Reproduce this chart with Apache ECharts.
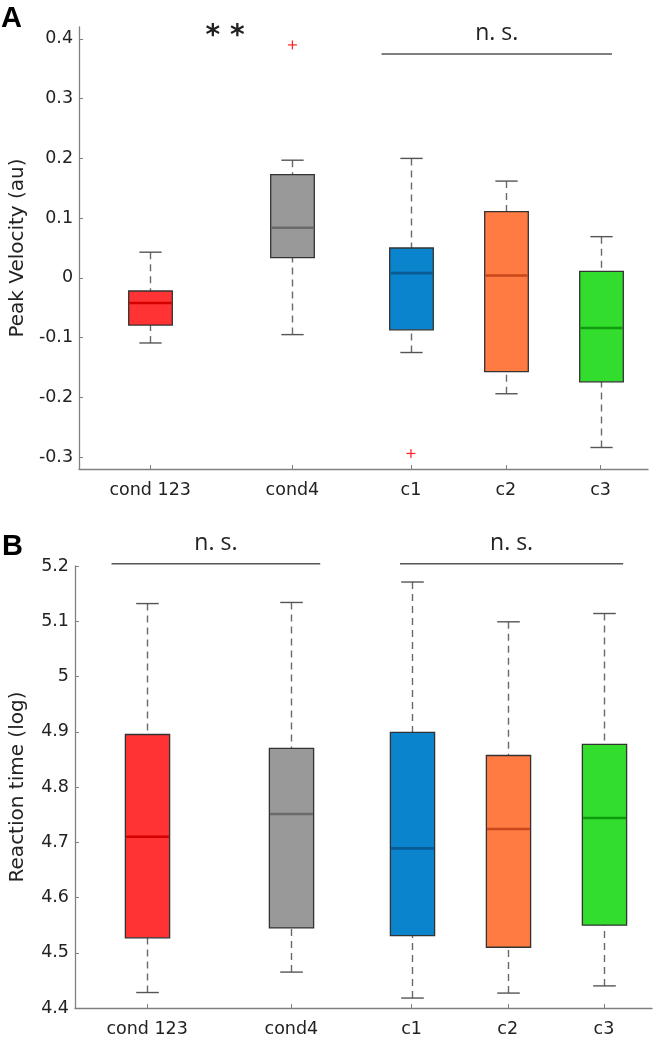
<!DOCTYPE html>
<html><head><meta charset="utf-8">
<script src="https://cdn.jsdelivr.net/npm/echarts@6/dist/echarts.min.js"></script>
<style>html,body{margin:0;padding:0;background:#fff}#c{width:656px;height:1038px}</style>
</head><body><div id="c"></div>
<script>
// ---------- data ----------
const categories = ['cond 123', 'cond4', 'c1', 'c2', 'c3'];
const positions = [0.75, 2.25, 3.5, 4.5, 5.5];

// Panel A – Peak Velocity (au): lower whisker, Q1, median, Q3, upper whisker
const velLow  = [-0.109, -0.095, -0.125, -0.194, -0.284];
const velQ1   = [-0.079,  0.034, -0.087, -0.157, -0.174];
const velMed  = [-0.042,  0.084,  0.008,  0.004, -0.084];
const velQ3   = [-0.022,  0.173,  0.050,  0.111,  0.011];
const velHigh = [ 0.043,  0.197,  0.200,  0.162,  0.069];
const velOutX = [2.25, 3.5];
const velOutY = [0.390, -0.294];
const velTicks = [-0.3, -0.2, -0.1, 0, 0.1, 0.2, 0.3, 0.4];

// Panel B – Reaction time (log)
const rtLow  = [4.428, 4.465, 4.418, 4.427, 4.440];
const rtQ1   = [4.527, 4.545, 4.531, 4.510, 4.550];
const rtMed  = [4.710, 4.751, 4.689, 4.724, 4.744];
const rtQ3   = [4.895, 4.870, 4.899, 4.857, 4.877];
const rtHigh = [5.132, 5.134, 5.171, 5.099, 5.114];
const rtTicks = [4.4, 4.5, 4.6, 4.7, 4.8, 4.9, 5, 5.1, 5.2];

// significance annotations
const starText = '* *';
const starX = [1.54];
const starY = [0.404];
const bracketPanel = [0, 1, 1];
const bracketX1 = [3.19, 0.38, 3.38];
const bracketX2 = [5.62, 2.55, 5.70];
const bracketY  = [0.375, 5.204, 5.204];
const bracketTextY = [0.409, 5.241, 5.241];
const bracketText = ['n. s.', 'n. s.', 'n. s.'];

// ---------- styles ----------
const boxColors = ['#FF3333', '#999999', '#0A84CC', '#FF7B42', '#33DD2E'];
const medColors = ['#D40000', '#6A6A6A', '#0A5A96', '#C8461A', '#0F9A0F'];
const axisColor = '#808080';
const FONT = 'DejaVu Sans';

const chart = echarts.init(document.getElementById('c'), null, {renderer: 'canvas'});

function boxData(low, q1, med, q3, high) {
  return positions.map((p, i) => [p, low[i], q1[i], med[i], q3[i], high[i], i]);
}

function renderBox(params, api) {
  const idx = api.value(6);
  const x = api.value(0);
  const low = api.coord([x, api.value(1)]);
  const q1 = api.coord([x, api.value(2)]);
  const med = api.coord([x, api.value(3)]);
  const q3 = api.coord([x, api.value(4)]);
  const high = api.coord([x, api.value(5)]);
  const bw = api.size([0.46, 0])[0];
  const cw = api.size([0.235, 0])[0];
  const cx = Math.round(low[0]) + 0.5;
  const whisk = {stroke: '#6a6a6a', lineWidth: 1.4, lineDash: [7, 5]};
  const cap = {stroke: '#555', lineWidth: 1.4};
  return {type: 'group', children: [
    {type: 'line', shape: {x1: cx, y1: high[1], x2: cx, y2: q3[1]}, style: whisk},
    {type: 'line', shape: {x1: cx, y1: low[1], x2: cx, y2: q1[1]}, style: whisk},
    {type: 'line', shape: {x1: cx - cw / 2, y1: high[1], x2: cx + cw / 2, y2: high[1]}, style: cap},
    {type: 'line', shape: {x1: cx - cw / 2, y1: low[1], x2: cx + cw / 2, y2: low[1]}, style: cap},
    {type: 'rect', shape: {x: cx - bw / 2, y: q3[1], width: bw, height: q1[1] - q3[1]},
      style: {fill: boxColors[idx], stroke: '#333', lineWidth: 1.3}},
    {type: 'line', shape: {x1: cx - bw / 2 + 0.7, y1: med[1], x2: cx + bw / 2 - 0.7, y2: med[1]},
      style: {stroke: medColors[idx], lineWidth: 2.6}}
  ]};
}

function renderPlus(params, api) {
  const c = api.coord([api.value(0), api.value(1)]);
  const s = 4.5;
  const st = {stroke: '#FF2020', lineWidth: 1.2};
  return {type: 'group', children: [
    {type: 'line', shape: {x1: c[0] - s, y1: c[1], x2: c[0] + s, y2: c[1]}, style: st},
    {type: 'line', shape: {x1: c[0], y1: c[1] - s, x2: c[0], y2: c[1] + s}, style: st}
  ]};
}

function renderBracket(params, api) {
  const a = api.coord([api.value(0), api.value(2)]);
  const b = api.coord([api.value(1), api.value(2)]);
  const t = api.coord([(api.value(0) + api.value(1)) / 2 + api.value(4), api.value(3)]);
  return {type: 'group', children: [
    {type: 'line', shape: {x1: a[0], y1: a[1], x2: b[0], y2: b[1]}, style: {stroke: '#555', lineWidth: 1.5}},
    {type: 'text', x: t[0], y: t[1], style: {text: bracketText[params.dataIndex], fill: '#222',
      font: '23px "Open Sans"', textAlign: 'center', textVerticalAlign: 'middle'}}
  ]};
}

function renderStar(params, api) {
  const t = api.coord([api.value(0), api.value(1)]);
  return {type: 'text', x: t[0], y: t[1], style: {text: starText, fill: '#222',
    font: 'bold 28px "DejaVu Sans"', textAlign: 'center', textVerticalAlign: 'middle'}};
}

function fmtTick(v) { return String(Math.round(v * 100) / 100); }

function xAxisFor(gi) {
  return {
    type: 'value', gridIndex: gi, min: 0, max: 6,
    axisLine: {show: true, onZero: false, lineStyle: {color: axisColor, width: 1.3}},
    axisTick: {show: true, inside: true, length: 4, customValues: positions, lineStyle: {color: axisColor}},
    axisLabel: {show: true, customValues: positions, margin: 12, color: '#222', fontFamily: FONT, fontSize: 17.5,
      formatter: v => { const i = positions.findIndex(p => Math.abs(p - v) < 1e-6); return i >= 0 ? categories[i] : ''; }},
    splitLine: {show: false}
  };
}

function yAxisFor(gi, min, max, ticks, name, gap) {
  return {
    type: 'value', gridIndex: gi, min: min, max: max,
    name: name, nameLocation: 'middle', nameGap: gap,
    nameTextStyle: {color: '#222', fontFamily: FONT, fontSize: 20},
    axisLine: {show: true, onZero: false, lineStyle: {color: axisColor, width: 1.3}},
    axisTick: {show: true, inside: true, length: 4, customValues: ticks, lineStyle: {color: axisColor}},
    axisLabel: {show: true, customValues: ticks, margin: 6, color: '#222', fontFamily: FONT, fontSize: 17.5, formatter: fmtTick},
    splitLine: {show: false}
  };
}

const bracketData = bracketPanel.map((p, i) => ({p: p, v: [bracketX1[i], bracketX2[i], bracketY[i], bracketTextY[i], 0]}));

chart.setOption({
  animation: false,
  backgroundColor: '#fff',
  grid: [
    {left: 73, right: 8, top: 27, bottom: 569, containLabel: false},
    {left: 70, right: 4, top: 566, bottom: 30, containLabel: false}
  ],
  xAxis: [xAxisFor(0), xAxisFor(1)],
  yAxis: [
    yAxisFor(0, -0.32, 0.42, velTicks, 'Peak Velocity (au)', 50),
    yAxisFor(1, 4.4, 5.2, rtTicks, 'Reaction time (log)', 47)
  ],
  graphic: [
    {type: 'text', left: 1, top: 4, style: {text: 'A', fill: '#000', font: 'bold 29px "Liberation Sans"'}},
    {type: 'text', left: 2, top: 532, style: {text: 'B', fill: '#000', font: 'bold 29px "Liberation Sans"'}}
  ],
  series: [
    {type: 'custom', xAxisIndex: 0, yAxisIndex: 0, renderItem: renderBox,
      data: boxData(velLow, velQ1, velMed, velQ3, velHigh), encode: {x: 0, y: [1, 2, 3, 4, 5]}, clip: false},
    {type: 'custom', xAxisIndex: 1, yAxisIndex: 1, renderItem: renderBox,
      data: boxData(rtLow, rtQ1, rtMed, rtQ3, rtHigh), encode: {x: 0, y: [1, 2, 3, 4, 5]}, clip: false},
    {type: 'custom', xAxisIndex: 0, yAxisIndex: 0, renderItem: renderPlus,
      data: velOutX.map((x, i) => [x, velOutY[i]]), clip: false},
    {type: 'custom', xAxisIndex: 0, yAxisIndex: 0, renderItem: renderStar,
      data: starX.map((x, i) => [x, starY[i]]), clip: false},
    {type: 'custom', xAxisIndex: 0, yAxisIndex: 0, renderItem: renderBracket,
      data: bracketData.filter(d => d.p === 0).map(d => d.v), clip: false},
    {type: 'custom', xAxisIndex: 1, yAxisIndex: 1, renderItem: renderBracket,
      data: bracketData.filter(d => d.p === 1).map(d => d.v), clip: false}
  ]
});
</script>
</body></html>
